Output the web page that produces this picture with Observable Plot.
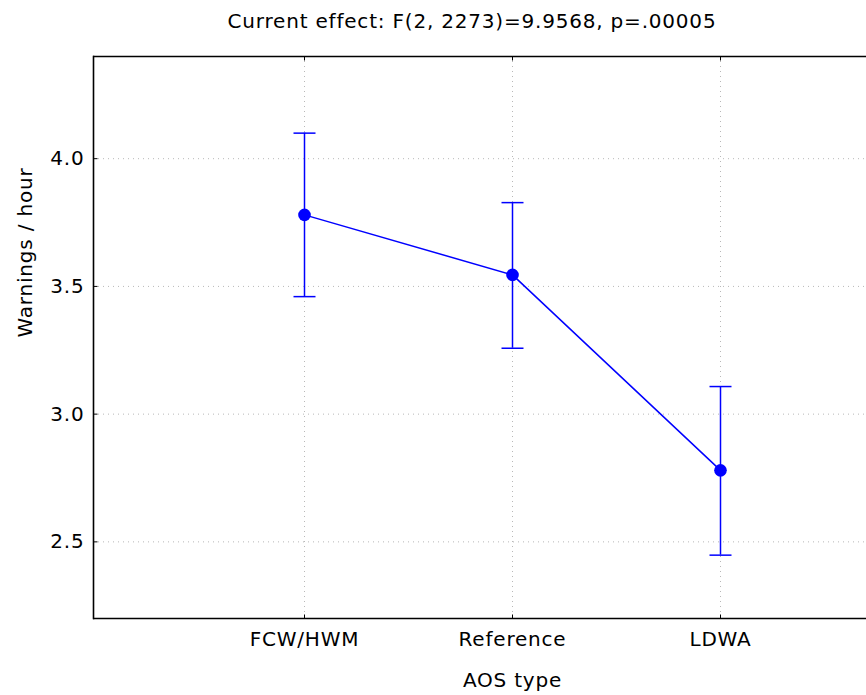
<!DOCTYPE html>
<html>
<head>
<meta charset="utf-8">
<script src="https://cdn.jsdelivr.net/npm/d3@7"></script>
<script src="https://cdn.jsdelivr.net/npm/@observablehq/plot@0.6"></script>
<style>
  html, body { margin: 0; padding: 0; background: white; }
  #chart svg text { letter-spacing: 0.8px; }
</style>
</head>
<body>
<div id="chart"></div>
<script>
const categories = ["FCW/HWM", "Reference", "LDWA"];
const means = [3.78, 3.545, 2.78];
const upper = [4.10, 3.828, 3.108];
const lower = [3.46, 3.258, 2.448];
const yTicks = [2.5, 3.0, 3.5, 4.0];
const title = "Current effect: F(2, 2273)=9.9568, p=.00005";
const xLabel = "AOS type";
const yLabel = "Warnings / hour";

const data = categories.map((c, i) => ({cat: c, mean: means[i], lo: lower[i], hi: upper[i]}));

// horizontal cap symbol: half-width equals r
const capSymbol = {
  draw(context, size) {
    const w = Math.sqrt(size / Math.PI);
    context.moveTo(-w, 0);
    context.lineTo(w, 0);
  }
};
// inward tick symbols (length equals r)
const rightTick = {draw(c, s) { const w = Math.sqrt(s / Math.PI); c.moveTo(0, 0); c.lineTo(w, 0); }};
const upTick = {draw(c, s) { const w = Math.sqrt(s / Math.PI); c.moveTo(0, 0); c.lineTo(0, -w); }};
const downTick = {draw(c, s) { const w = Math.sqrt(s / Math.PI); c.moveTo(0, 0); c.lineTo(0, w); }};

const FS = 20;
const FONT = "'DejaVu Sans', 'Liberation Sans', Arial, sans-serif";
const chart = Plot.plot({
  width: 866,
  height: 695,
  marginLeft: 93,
  marginRight: 0,
  marginTop: 56,
  marginBottom: 77,
  style: {fontFamily: FONT, fontSize: FS + "px", color: "black", background: "white"},
  x: {type: "point", domain: categories, padding: 0.85, align: 0.59, label: null},
  y: {domain: [2.2, 4.4], label: null},
  marks: [
    Plot.gridY(yTicks, {stroke: "#b8b8b8", strokeOpacity: 1, strokeDasharray: "1,4"}),
    Plot.gridX(categories, {stroke: "#b8b8b8", strokeOpacity: 1, strokeDasharray: "1,4"}),
    Plot.ruleY([2.2, 4.4], {stroke: "black", strokeWidth: 1.6}),
    Plot.frame({anchor: "left", stroke: "black", strokeWidth: 1.6}),
    Plot.axisY(yTicks, {tickFormat: d3.format(".1f"), tickSize: 0, tickPadding: 9, fontSize: FS}),
    Plot.axisX(categories, {tickSize: 0, tickPadding: 13, fontSize: FS}),
    Plot.dot(yTicks, {y: d => d, frameAnchor: "left", r: 4, symbol: rightTick, stroke: "black", strokeWidth: 1}),
    Plot.dot(categories, {x: d => d, frameAnchor: "bottom", r: 4, symbol: upTick, stroke: "black", strokeWidth: 1}),
    Plot.dot(categories, {x: d => d, frameAnchor: "top", r: 4, symbol: downTick, stroke: "black", strokeWidth: 1}),
    Plot.ruleX(data, {x: "cat", y1: "lo", y2: "hi", stroke: "blue", strokeWidth: 1.5}),
    Plot.dot(data, {x: "cat", y: "hi", r: 11, symbol: capSymbol, stroke: "blue", strokeWidth: 1.5, fill: "none"}),
    Plot.dot(data, {x: "cat", y: "lo", r: 11, symbol: capSymbol, stroke: "blue", strokeWidth: 1.5, fill: "none"}),
    Plot.line(data, {x: "cat", y: "mean", stroke: "blue", strokeWidth: 1.5}),
    Plot.dot(data, {x: "cat", y: "mean", r: 6.3, fill: "blue", stroke: "none"}),
    Plot.text([title], {frameAnchor: "top", lineAnchor: "middle", dy: -35, dx: -8, text: d => d, fontSize: FS}),
    Plot.text([xLabel], {x: () => categories[1], frameAnchor: "bottom", lineAnchor: "middle", dy: 62, text: d => d, fontSize: FS}),
    Plot.text([yLabel], {frameAnchor: "left", dx: -68, rotate: -90, text: d => d, fontSize: FS})
  ]
});
document.getElementById("chart").appendChild(chart);
</script>
</body>
</html>
